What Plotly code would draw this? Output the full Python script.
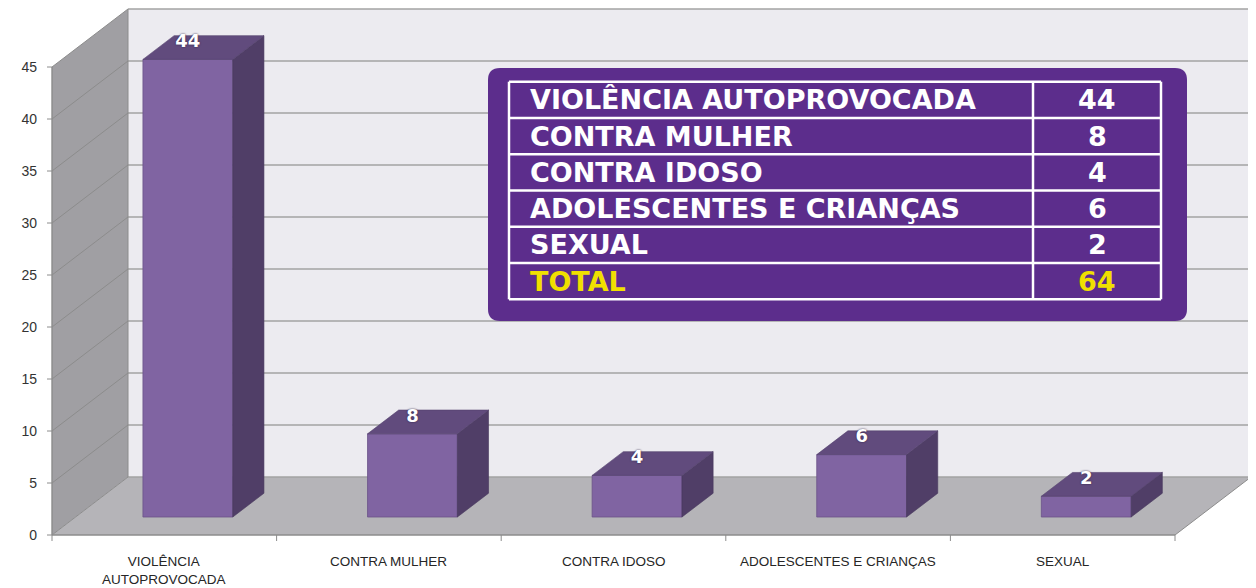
import plotly.graph_objects as go

# ---------------- data ----------------
categories = ["VIOLÊNCIA AUTOPROVOCADA", "CONTRA MULHER", "CONTRA IDOSO",
              "ADOLESCENTES E CRIANÇAS", "SEXUAL"]
axis_labels = ["VIOLÊNCIA<br>AUTOPROVOCADA", "CONTRA MULHER", "CONTRA IDOSO",
               "ADOLESCENTES E CRIANÇAS", "SEXUAL"]
values = [44, 8, 4, 6, 2]
y_ticks = [0, 5, 10, 15, 20, 25, 30, 35, 40, 45]
total_label = "TOTAL"
total_value = sum(values)

# ---------------- geometry (screen-pixel calibration) ----------------
OFF = 8                      # page body margin
SCR_W, SCR_H = 1256, 588
W, H = SCR_W - OFF, SCR_H - OFF
SL, SR, ST, SB = 44, 1252, 8, 588   # plot area in screen pixels
PX_U = 224.6      # pixels per category
PX_V = 10.4       # pixels per value unit
X0, Y0 = 52, 535  # screen pixel of (u=0, v=0)
DU = 76 / PX_U    # full depth offset in x units
DV = 58 / PX_V    # full depth offset in y units
F1 = 0.31         # depth of bar front face
FD = 0.41         # bar depth
BW = 0.4          # bar width
VMAX = y_ticks[-1]
N = len(values)

xr = [(SL - X0) / PX_U, (SR - X0) / PX_U]
yr = [(Y0 - SB) / PX_V, (Y0 - ST) / PX_V]
PW, PH = SR - SL, SB - ST


def px(xp):
    return (xp - SL) / PW


def py(yp):
    return (SB - yp) / PH


def poly(pts):
    return "M " + " L ".join(f"{x},{y}" for x, y in pts) + " Z"


GRID = "#a3a3a3"
EDGE = "#8c8c8c"
shapes = []
# left wall
shapes.append(dict(type="path", layer="below", xref="x", yref="y",
                   path=poly([(0, 0), (0, VMAX), (DU, VMAX + DV), (DU, DV)]),
                   fillcolor="#a09fa3", line=dict(width=0)))
# floor
shapes.append(dict(type="path", layer="below", xref="x", yref="y",
                   path=poly([(0, 0), (N, 0), (N + DU, DV), (DU, DV)]),
                   fillcolor="#b5b4b8", line=dict(width=0)))
# back wall
shapes.append(dict(type="rect", layer="below", xref="x", yref="y",
                   x0=DU, x1=N + DU, y0=DV, y1=VMAX + DV,
                   fillcolor="#ecebf0", line=dict(width=0)))
for t in y_ticks:
    shapes.append(dict(type="line", layer="below", xref="x", yref="y",
                       x0=DU, x1=N + DU, y0=DV + t, y1=DV + t,
                       line=dict(color=GRID, width=1.4)))
    shapes.append(dict(type="line", layer="below", xref="x", yref="y",
                       x0=0, x1=DU, y0=t, y1=DV + t,
                       line=dict(color=EDGE, width=1)))
    shapes.append(dict(type="line", layer="below", xref="x", yref="y",
                       x0=-5 / PX_U, x1=0, y0=t, y1=t,
                       line=dict(color=EDGE, width=1)))
shapes.append(dict(type="line", layer="below", xref="x", yref="y",
                   x0=DU, x1=DU, y0=DV, y1=VMAX + DV, line=dict(color=EDGE, width=1)))
shapes.append(dict(type="line", layer="below", xref="x", yref="y",
                   x0=N, x1=N + DU, y0=0, y1=DV, line=dict(color=EDGE, width=1)))
shapes.append(dict(type="line", layer="below", xref="x", yref="y",
                   x0=0, x1=N, y0=0, y1=0, line=dict(color=EDGE, width=1.4)))
shapes.append(dict(type="line", layer="below", xref="x", yref="y",
                   x0=0, x1=0, y0=0, y1=VMAX, line=dict(color=EDGE, width=1.4)))
for i in range(N + 1):
    shapes.append(dict(type="line", layer="below", xref="x", yref="y",
                       x0=i, x1=i, y0=0, y1=-6 / PX_V, line=dict(color=EDGE, width=1)))

# ---------------- bars ----------------
centers = [i + 0.5 + F1 * DU for i in range(N)]
base = F1 * DV
fig = go.Figure()
fig.add_trace(go.Bar(x=centers, y=values, base=base, width=BW,
                     marker=dict(color="#8064a2", line=dict(color="#6b5389", width=0.8)),
                     hoverinfo="skip"))

top_x, top_y, side_x, side_y = [], [], [], []
for c, v in zip(centers, values):
    xl, xrr = c - BW / 2, c + BW / 2
    top = v + base
    for (a, b) in [(xl, top), (xrr, top), (xrr + FD * DU, top + FD * DV),
                   (xl + FD * DU, top + FD * DV), (xl, top)]:
        top_x.append(a); top_y.append(b)
    top_x.append(None); top_y.append(None)
    for (a, b) in [(xrr, base), (xrr, top), (xrr + FD * DU, top + FD * DV),
                   (xrr + FD * DU, base + FD * DV), (xrr, base)]:
        side_x.append(a); side_y.append(b)
    side_x.append(None); side_y.append(None)

fig.add_trace(go.Scatter(x=side_x, y=side_y, fill="toself", mode="lines",
                         fillcolor="#503e67", line=dict(color="#47375c", width=0.6),
                         hoverinfo="skip"))
fig.add_trace(go.Scatter(x=top_x, y=top_y, fill="toself", mode="lines",
                         fillcolor="#614b7d", line=dict(color="#54416d", width=0.6),
                         hoverinfo="skip"))
fig.add_trace(go.Scatter(x=centers, y=[v + base + 1.6 for v in values],
                         mode="text", text=[str(v) for v in values],
                         textposition="middle center", cliponaxis=False,
                         textfont=dict(family="DejaVu Sans", size=18, color="white",
                                       weight="bold", shadow="0px 0px 2px #2b2040"),
                         hoverinfo="skip"))

annotations = []
for i, lab in enumerate(axis_labels):
    annotations.append(dict(x=i + 0.5, y=(Y0 - 552) / PX_V, xref="x", yref="y",
                            text=lab, showarrow=False, xanchor="center", yanchor="top",
                            font=dict(family="Liberation Sans", size=13.5, color="#262626")))

# ---------------- table overlay ----------------
bx0, bx1, by0, by1, r = 488, 1187, 68, 321, 12
rx, ry = r / PW, r / PH
X_0, X_1, Y_T, Y_B = px(bx0), px(bx1), py(by0), py(by1)
path = (f"M {X_0 + rx},{Y_T} L {X_1 - rx},{Y_T} Q {X_1},{Y_T} {X_1},{Y_T - ry} "
        f"L {X_1},{Y_B + ry} Q {X_1},{Y_B} {X_1 - rx},{Y_B} "
        f"L {X_0 + rx},{Y_B} Q {X_0},{Y_B} {X_0},{Y_B + ry} "
        f"L {X_0},{Y_T - ry} Q {X_0},{Y_T} {X_0 + rx},{Y_T} Z")
shapes.append(dict(type="path", layer="above", xref="paper", yref="paper", path=path,
                   fillcolor="#5c2d8c", line=dict(width=0)))

tx0, tdiv, tx1 = 509, 1033, 1161
ty0, row_h = 81.7, 36.27
rows = list(zip(categories, values)) + [(total_label, total_value)]
nrows = len(rows)
for k in range(nrows + 1):
    yy = py(ty0 + k * row_h)
    shapes.append(dict(type="line", layer="above", xref="paper", yref="paper",
                       x0=px(tx0), x1=px(tx1), y0=yy, y1=yy,
                       line=dict(color="white", width=2.5)))
for xx in (tx0, tdiv, tx1):
    shapes.append(dict(type="line", layer="above", xref="paper", yref="paper",
                       x0=px(xx), x1=px(xx), y0=py(ty0), y1=py(ty0 + nrows * row_h),
                       line=dict(color="white", width=2.5)))

for k, (name, val) in enumerate(rows):
    col = "#f0e000" if k == nrows - 1 else "white"
    yc = py(ty0 + (k + 0.5) * row_h)
    annotations.append(dict(x=px(528), y=yc, xref="paper", yref="paper", text=name,
                            showarrow=False, xanchor="left", yanchor="middle",
                            font=dict(family="DejaVu Sans", size=27, color=col, weight="bold")))
    annotations.append(dict(x=px((tdiv + tx1) / 2), y=yc, xref="paper", yref="paper",
                            text=str(val), showarrow=False, xanchor="center", yanchor="middle",
                            font=dict(family="DejaVu Sans", size=27, color=col, weight="bold")))

fig.update_layout(
    template="none",
    width=W, height=H,
    margin=dict(l=SL - OFF, r=SCR_W - SR, t=ST - OFF, b=SCR_H - SB, pad=0, autoexpand=False),
    paper_bgcolor="white", plot_bgcolor="white",
    showlegend=False,
    xaxis=dict(range=xr, visible=False, fixedrange=True, automargin=False),
    yaxis=dict(range=yr, tickvals=y_ticks, ticks="", showgrid=False, zeroline=False,
               showline=False, ticklabelstandoff=6, fixedrange=True, automargin=False,
               tickfont=dict(family="Liberation Sans", size=14, color="#333333")),
    shapes=shapes,
    annotations=annotations,
)

fig.write_html("out.html")
